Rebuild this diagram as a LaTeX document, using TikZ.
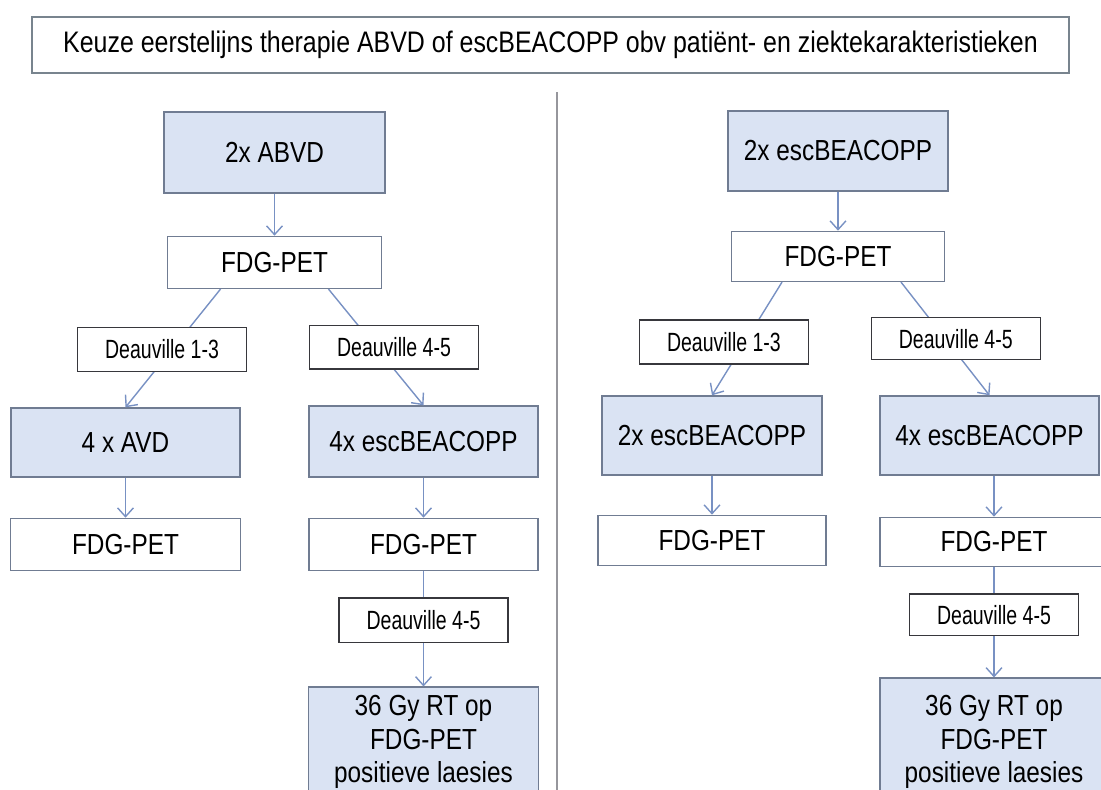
\documentclass[tikz,border=0pt]{standalone}
\usepackage{fontspec}
\setmainfont{Liberation Sans}[FakeStretch=0.84]
\newfontfamily\scorefont{Liberation Sans}[FakeStretch=0.74]
\usetikzlibrary{positioning, arrows.meta}
\definecolor{boxfill}{RGB}{218,227,243}
\definecolor{boxline}{RGB}{112,124,146}
\definecolor{scoreline}{RGB}{55,55,60}
\definecolor{titleline}{RGB}{120,132,142}
\definecolor{arrowblue}{RGB}{120,145,195}
\definecolor{divgray}{RGB}{150,150,156}
\begin{document}
\begin{tikzpicture}[
  x=0.02cm, y=-0.02cm,
  bluebox/.style={rectangle, draw=boxline, fill=boxfill, line width=0.8pt,
                  inner sep=2pt, align=center,
                  font=\fontsize{16.5}{19}\selectfont},
  petbox/.style={rectangle, draw=boxline, fill=white, line width=0.8pt,
                 inner sep=2pt, font=\fontsize{16.5}{21}\selectfont},
  scorebox/.style={rectangle, draw=scoreline, fill=white, line width=0.8pt,
                   minimum width=3.38cm, minimum height=0.88cm, inner sep=2pt,
                   font=\scorefont\fontsize{15}{18}\selectfont},
  link/.style={draw=arrowblue, line width=0.8pt},
  arr/.style={link, -{Straight Barb[length=5pt,width=9pt]}},
]
\clip (0,0) rectangle (1101,789);
% Titel
\node[rectangle, draw=titleline, line width=0.8pt, minimum width=20.74cm,
      minimum height=1.12cm, font=\fontsize{16.9}{20}\selectfont]
      (keuze) at (550.5,45)
      {Keuze eerstelijns therapie ABVD of escBEACOPP obv patiënt- en ziektekarakteristieken};
% Scheidingslijn
\coordinate (divtop) at (557,92);
\coordinate (divbot) at (557,795);
\draw[divgray, line width=0.9pt] (divtop) -- (divbot);

% Linker arm: ABVD
\node[bluebox, minimum width=4.42cm, minimum height=1.62cm] (abvd) at (274.5,152.5) {2x ABVD};
\node[petbox, minimum width=4.28cm, minimum height=1.04cm, below=0.84cm of abvd] (petA) {FDG-PET};
\node[bluebox, minimum width=4.58cm, minimum height=1.38cm] (avd) at (125.5,442.5) {4 x AVD};
\node[petbox, minimum width=4.6cm, minimum height=1.04cm, below=0.8cm of avd] (petAa) {FDG-PET};
\node[bluebox, minimum width=4.58cm, minimum height=1.42cm] (escA) at (423.5,441.5) {4x escBEACOPP};
\node[petbox, minimum width=4.58cm, minimum height=1.04cm, below=0.8cm of escA] (petAb) {FDG-PET};
\node[scorebox, minimum height=0.9cm, below=0.52cm of petAb] (deauA3) {Deauville 4-5};
\node[bluebox, minimum width=4.6cm, minimum height=2.2cm, below=0.86cm of deauA3] (rtA)
     {36 Gy RT op\\FDG-PET\\positieve laesies};

% Pijlen linker arm
\draw[arr] (abvd) -- (petA);
\draw[arr] ([xshift=-1.08cm]petA.south) --
     node[scorebox, pos=0.51, xshift=-0.2cm] (deauA1) {Deauville 1-3} (avd.north);
\draw[arr] ([xshift=1.08cm]petA.south) --
     node[scorebox, pos=0.5, xshift=0.36cm] (deauA2) {Deauville 4-5} (escA.north);
\draw[arr] (avd) -- (petAa);
\draw[arr] (escA) -- (petAb);
\draw[link] (petAb) -- (deauA3);
\draw[arr] (deauA3) -- (rtA);

% Rechter arm: escBEACOPP
\node[bluebox, minimum width=4.4cm, minimum height=1.6cm] (escB) at (838,151) {2x escBEACOPP};
\node[petbox, minimum width=4.26cm, minimum height=1.0cm, below=0.78cm of escB] (petB) {FDG-PET};
\node[bluebox, minimum width=4.4cm, minimum height=1.58cm] (escBa) at (712,435.5) {2x escBEACOPP};
\node[petbox, minimum width=4.56cm, minimum height=1.0cm, below=0.78cm of escBa] (petBa) {FDG-PET};
\node[bluebox, minimum width=4.38cm, minimum height=1.58cm] (escBb) at (989.5,435.5) {4x escBEACOPP};
\node[petbox, minimum width=4.56cm, minimum height=0.98cm,
      below=0.82cm of escBb.south west, anchor=north west] (petBb) {FDG-PET};
\node[scorebox, minimum height=0.84cm, below=0.52cm of petBb] (deauB3) {Deauville 4-5};
\node[bluebox, minimum width=4.56cm, minimum height=2.56cm, below=0.82cm of deauB3] (rtB)
     {36 Gy RT op\\FDG-PET\\positieve laesies};

% Pijlen rechter arm
\draw[arr] (escB) -- (petB);
\draw[arr] ([xshift=-1.12cm]petB.south) --
     node[scorebox, pos=0.53, xshift=-0.42cm] (deauB1) {Deauville 1-3} (escBa.north);
\draw[arr] ([xshift=1.26cm]petB.south) --
     node[scorebox, minimum height=0.84cm, pos=0.5, xshift=0.21cm] (deauB2) {Deauville 4-5} (escBb.north);
\draw[arr] (escBa) -- (petBa);
\draw[arr] (escBb.south -| petBb.north) -- (petBb.north);
\draw[link] (petBb) -- (deauB3);
\draw[arr] (deauB3) -- (rtB);
\end{tikzpicture}
\end{document}
